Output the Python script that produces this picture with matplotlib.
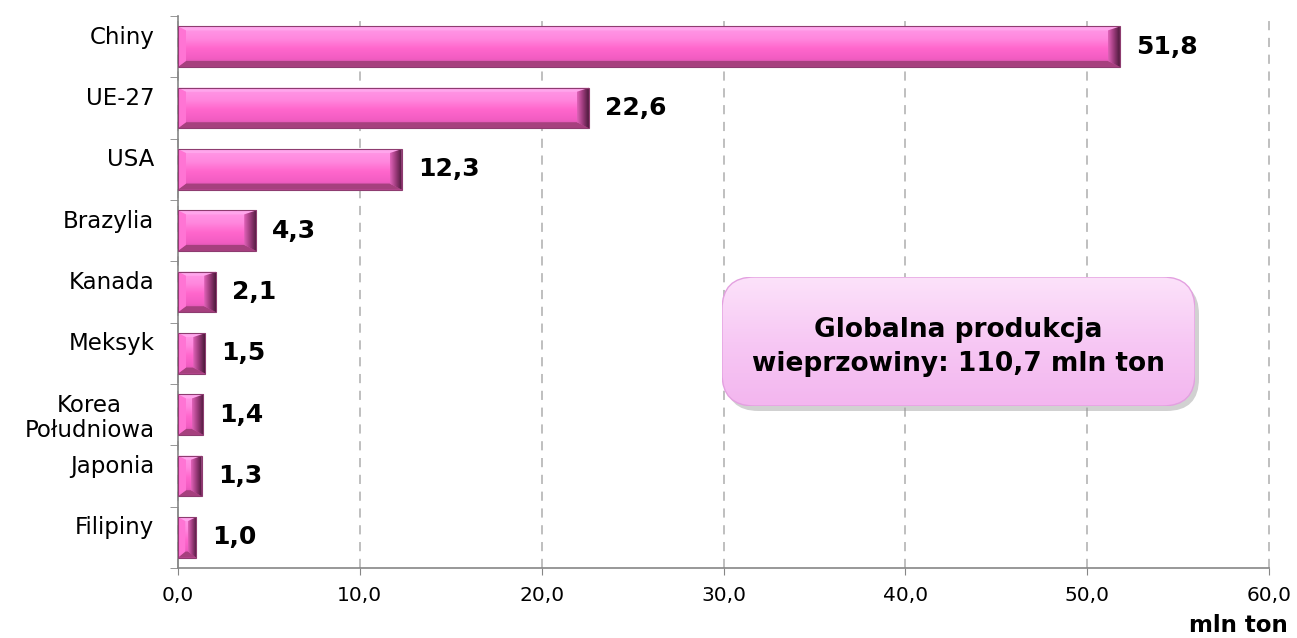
import numpy as np
import matplotlib as mpl
import matplotlib.pyplot as plt
from matplotlib.patches import Polygon, Rectangle, FancyBboxPatch
from matplotlib.transforms import ScaledTranslation

countries = ["Chiny", "UE-27", "USA", "Brazylia", "Kanada", "Meksyk",
             "Korea\nPołudniowa", "Japonia", "Filipiny"]
values = [51.8, 22.6, 12.3, 4.3, 2.1, 1.5, 1.4, 1.3, 1.0]
value_labels = ["51,8", "22,6", "12,3", "4,3", "2,1", "1,5", "1,4", "1,3", "1,0"]
xticks = [0, 10, 20, 30, 40, 50, 60]
xtick_labels = ["0,0", "10,0", "20,0", "30,0", "40,0", "50,0", "60,0"]
box_text = "Globalna produkcja\nwieprzowiny: 110,7 mln ton"
unit_label = "mln ton"

plt.rcParams["font.family"] = ["DejaVu Sans"]

fig = plt.figure(figsize=(12.97, 6.38), dpi=100)
ax = fig.add_axes([178 / 1297, 70 / 638, 1091 / 1297, 552 / 638])

n = len(countries)

# pixel -> data scale for bevel sizes
px_x = 60 / 1091
px_y = n / 552

face_cmap = mpl.colors.LinearSegmentedColormap.from_list(
    "face", [(0.0, "#FF9AE8"), (0.3, "#FF88DE"), (0.55, "#FF66CC"),
             (0.8, "#F25DC2"), (1.0, "#C94DA2")])
end_cmap = mpl.colors.LinearSegmentedColormap.from_list(
    "end", ["#E062B8", "#9A3A7A", "#4E1A3C"])
vgrad = np.linspace(0, 1, 64).reshape(-1, 1)
hgrad = np.linspace(0, 1, 32).reshape(1, -1)

h = 0.33
for i, v in enumerate(values):
    x0, x1 = 0.0, v
    dxl = min(8 * px_x, v * 0.4)
    dxr = min(12 * px_x, v * 0.45)
    dyt = 4 * px_y
    dyb = 6 * px_y
    top, bot = i - h, i + h
    im = ax.imshow(vgrad, cmap=face_cmap, aspect="auto", origin="upper",
                   extent=[x0, x1, bot, top], zorder=3, interpolation="bilinear")
    clip = Rectangle((x0, top), x1 - x0, 2 * h, transform=ax.transData)
    im.set_clip_path(clip)
    ax.add_patch(Polygon([(x0, top), (x1, top), (x1 - dxr, top + dyt), (x0 + dxl, top + dyt)],
                         closed=True, fc="#FFA6EC", ec="none", zorder=3.2))
    ax.add_patch(Polygon([(x0, bot), (x1, bot), (x1 - dxr, bot - dyb), (x0 + dxl, bot - dyb)],
                         closed=True, fc="#A6407E", ec="none", zorder=3.2))
    ax.add_patch(Polygon([(x0, top), (x0 + dxl, top + dyt), (x0 + dxl, bot - dyb), (x0, bot)],
                         closed=True, fc="#FF74D4", ec="none", zorder=3.3))
    rpoly = Polygon([(x1, top), (x1 - dxr, top + dyt), (x1 - dxr, bot - dyb), (x1, bot)],
                    closed=True, transform=ax.transData)
    rim = ax.imshow(hgrad, cmap=end_cmap, aspect="auto", origin="upper",
                    extent=[x1 - dxr, x1, bot, top], zorder=3.3, interpolation="bilinear")
    rim.set_clip_path(rpoly)
    ax.add_patch(Rectangle((x0, top), x1 - x0, 2 * h, fc="none", ec="#8E3C70",
                           lw=0.8, zorder=3.5))
    ax.text(v + 16 * px_x, i, value_labels[i], ha="left", va="center",
            fontsize=18, fontweight="bold", color="black", zorder=5)

ax.set_xlim(0, 60)
ax.set_ylim(n - 0.5, -0.5)

# axes styling
for side in ["top", "right"]:
    ax.spines[side].set_visible(False)
ax.spines["left"].set_color("#868686")
ax.spines["bottom"].set_color("#868686")
ax.spines["left"].set_linewidth(1.2)
ax.spines["bottom"].set_linewidth(1.2)

ax.set_xticks(xticks)
ax.set_xticklabels(xtick_labels, fontsize=14.5)
ax.tick_params(axis="x", length=5, color="#868686", pad=8)
ax.grid(axis="x", color="#ADADAD", linestyle=(0, (6, 5)), lw=1.1, zorder=0)
for gl in ax.get_xgridlines():
    gl.set_clip_on(False)
ax.set_axisbelow(True)

ax.set_yticks(np.arange(n))
ax.set_yticklabels(countries, fontsize=16.5, linespacing=1.12, ha="right",
                   multialignment="center")
ax.tick_params(axis="y", length=0, pad=17)
offset = ScaledTranslation(0, 12 / 100, fig.dpi_scale_trans)
for lbl, name in zip(ax.get_yticklabels(), countries):
    lbl.set_multialignment("center")
    if "\n" not in name:
        lbl.set_transform(lbl.get_transform() + offset)
ax.set_yticks(np.arange(n + 1) - 0.5, minor=True)
ax.tick_params(axis="y", which="minor", length=6, color="#868686")

fig.text(1288 / 1297, 1 - 626 / 638, unit_label, ha="right", va="center",
         fontsize=16.5, fontweight="bold")

# info box
bx0, by0 = 722 / 1297, 232 / 638
bw, bh = (1195 - 722) / 1297, (406 - 277) / 638
shadow = FancyBboxPatch((bx0 + 4 / 1297, by0 - 5 / 638), bw, bh,
                        boxstyle="round,pad=0,rounding_size=0.025",
                        transform=fig.transFigure, fc="#9A9A9A", ec="none",
                        alpha=0.45, zorder=6, mutation_aspect=1297 / 638)
fig.patches.append(shadow)
grad = np.linspace(0, 1, 100).reshape(-1, 1)
cmap = mpl.colors.LinearSegmentedColormap.from_list("g", ["#F3B6EF", "#F7C8F4", "#FCE2FA"])
gax = fig.add_axes([bx0, by0, bw, bh], zorder=8)
gax.axis("off")
gax.imshow(grad, cmap=cmap, aspect="auto", origin="lower", extent=[0, 1, 0, 1])
gbox = FancyBboxPatch((bx0, by0), bw, bh,
                      boxstyle="round,pad=0,rounding_size=0.025",
                      transform=fig.transFigure, fc="none", ec="#E3A0E0",
                      lw=1.0, mutation_aspect=1297 / 638)
gax.images[0].set_clip_path(gbox)
gax.add_artist(gbox)
gax.text(0.5, 0.46, box_text, ha="center", va="center", fontsize=19,
         fontweight="bold", linespacing=1.4, transform=gax.transAxes)

fig.savefig("out.png", dpi=100)
